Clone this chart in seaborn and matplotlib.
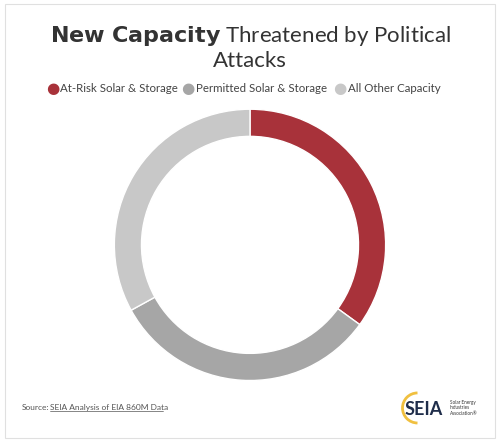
import matplotlib
matplotlib.use("Agg")
import matplotlib.pyplot as plt
import seaborn as sns
from matplotlib.patches import Rectangle, Arc

sns.set_theme(style="white")
plt.rcParams['font.family'] = ['Lato', 'DejaVu Sans']

categories = ["At-Risk Solar & Storage", "Permitted Solar & Storage", "All Other Capacity"]
values = [35, 32, 33]
colors = ["#a8323a", "#a6a6a6", "#c8c8c8"]

fig = plt.figure(figsize=(5.0, 4.42), dpi=100)
fig.patch.set_facecolor("white")
fig.patches.append(Rectangle((0.01, 0.01), 0.98, 0.98, transform=fig.transFigure,
                             fill=False, edgecolor="#e0e0e0", lw=0.8))
ax = fig.add_axes([0.226, 0.136, 0.548, 0.62])
ax.pie(values, colors=colors, startangle=90, counterclock=False,
       wedgeprops=dict(width=0.2, edgecolor="white", linewidth=1))
ax.set_xlim(-1.01, 1.01)
ax.set_ylim(-1.01, 1.01)
ax.set_aspect("equal")

fig.text(0.5, 0.918, "$\\bf{New\\ Capacity}$ Threatened by Political", ha="center",
         va="center", fontsize=16, color="#333333")
fig.text(0.5, 0.862, "Attacks", ha="center", va="center", fontsize=16, color="#333333")

xs = [0.105, 0.375, 0.68]
for x, c, lab in zip(xs, colors, categories):
    fig.text(x, 0.8, "●", color=c, fontsize=11, ha="center", va="center", family="DejaVu Sans")
    fig.text(x + 0.016, 0.8, lab, color="#444444", fontsize=8.3, ha="left", va="center")

fig.text(0.043, 0.078, "Source:", fontsize=6, color="#555555", va="center")
fig.text(0.1, 0.078, "SEIA Analysis of EIA 860M Data", fontsize=6, color="#555555",
         va="center")
fig.lines.append(plt.Line2D([0.1, 0.326], [0.07, 0.07], transform=fig.transFigure,
                            color="#555555", lw=0.5))
fig.patches.append(Arc((0.835, 0.077), 0.06, 0.068, theta1=90, theta2=270,
                       transform=fig.transFigure, color="#f0c040", lw=2))
fig.text(0.81, 0.073, "SEIA", fontsize=13, fontweight="bold", color="#1f2d4a", va="center")
fig.text(0.9, 0.077, "Solar Energy\nIndustries\nAssociation®", fontsize=3.3,
         color="#333333", va="center", linespacing=1.1)

fig.savefig("out.png", dpi=100, facecolor="white")
